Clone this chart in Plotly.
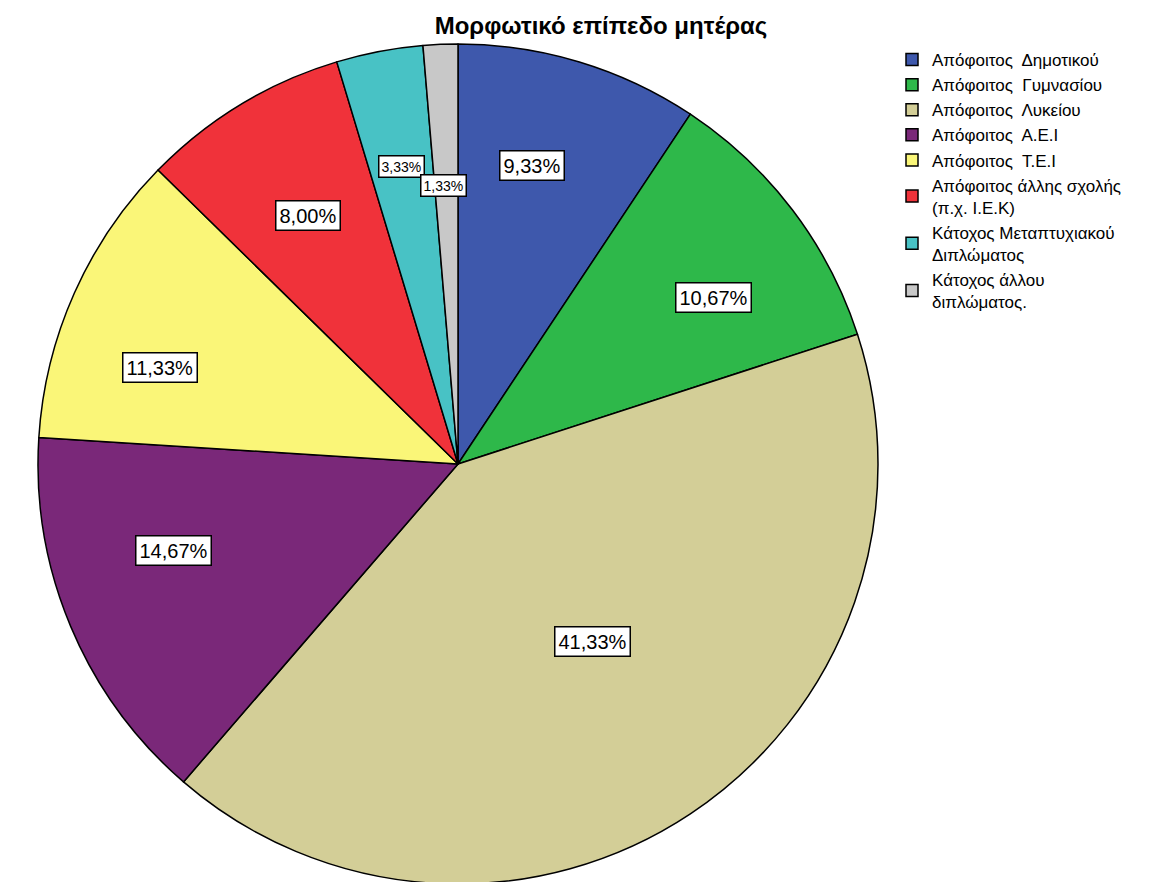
import plotly.graph_objects as go
import math

categories = [
    "Απόφοιτος  Δημοτικού",
    "Απόφοιτος  Γυμνασίου",
    "Απόφοιτος  Λυκείου",
    "Απόφοιτος  Α.Ε.Ι",
    "Απόφοιτος  Τ.Ε.Ι",
    "Απόφοιτος άλλης σχολής<br>(π.χ. Ι.Ε.Κ)",
    "Κάτοχος Μεταπτυχιακού<br>Διπλώματος",
    "Κάτοχος άλλου<br>διπλώματος.",
]
percentages = [9.33, 10.67, 41.33, 14.67, 11.33, 8.00, 3.33, 1.33]
colors = ["#3E58AC", "#2EB84A", "#D3CE97", "#7A2879", "#FAF678", "#F0323A", "#48C2C5", "#C8C8C8"]

OFF = 8  # page body margin
W, H = 1175, 882
R = 420
cx, cy = 458 - OFF, 464 - OFF          # figure coords of pie centre
mt = cy - R
ph = 2 * R
mb = H - mt - ph
ml, mr = 0, 0
pw = W - ml - mr

fig = go.Figure()
fig.add_trace(go.Pie(
    labels=categories,
    values=percentages,
    sort=False,
    direction="clockwise",
    rotation=0,
    marker=dict(colors=colors, line=dict(color="black", width=1.5)),
    textinfo="none",
    hoverinfo="label+percent",
    domain=dict(x=[(cx - R) / pw, (cx + R) / pw], y=[0, 1]),
))

# label boxes placed near slice mid-angles
radial = [0.731, 0.726, 0.53, 0.709, 0.745, 0.691, 0.722, 0.665]
angle_shift = [-2.9, 4.0, -3.7, 5.8, -6.1, 0.0, 0.0, -0.5]
sizes = [20, 20, 20, 20, 20, 20, 14, 14]
pads = [3, 3, 3, 3, 3, 3, 2, 2]
total = sum(percentages)
cum = 0
annotations = []
for v, rf, da, fs, bp in zip(percentages, radial, angle_shift, sizes, pads):
    mid = (cum + v / 2) / total * 2 * math.pi + math.radians(da)
    cum += v
    px = cx + rf * R * math.sin(mid)
    py = cy - rf * R * math.cos(mid)
    annotations.append(dict(
        x=(px - ml) / pw, y=1 - (py - mt) / ph, xref="paper", yref="paper",
        xanchor="center", yanchor="middle",
        text=f"{v:.2f}".replace(".", ",") + "%",
        showarrow=False,
        font=dict(size=fs, color="black", family="Liberation Sans, Arial"),
        bgcolor="white", bordercolor="black", borderwidth=1.5, borderpad=bp,
    ))

fig.update_layout(
    width=W, height=H,
    margin=dict(l=ml, r=mr, t=mt, b=mb),
    paper_bgcolor="white",
    plot_bgcolor="white",
    title=dict(text="<b>Μορφωτικό επίπεδο μητέρας</b>", x=(601 - OFF) / W, xanchor="center",
               y=1 - (26 - OFF) / H, yanchor="middle",
               font=dict(size=24, color="black", family="Liberation Sans, Arial")),
    font=dict(family="Liberation Sans, Arial", color="black"),
    legend=dict(x=(892 - OFF) / W, xanchor="left",
                y=1 - ((42 - OFF) - mt) / ph, yanchor="top",
                font=dict(size=17, color="black", family="Liberation Sans, Arial"),
                tracegroupgap=0, itemwidth=30, bgcolor="rgba(0,0,0,0)"),
    annotations=annotations,
)

fig.write_html("out.html")
